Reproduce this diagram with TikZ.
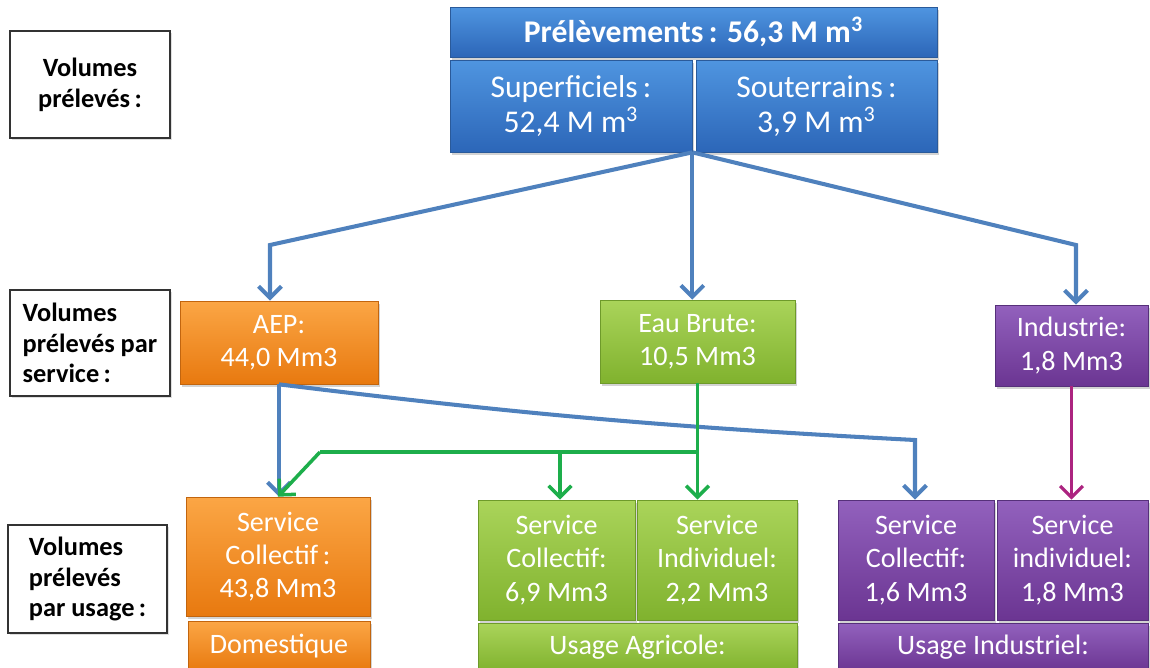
\documentclass[tikz,border=0pt]{standalone}
\usepackage{fontspec}
\setmainfont{Carlito}
\usetikzlibrary{arrows.meta,shadows}
\definecolor{bluetop}{HTML}{4F95E0}
\definecolor{bluebot}{HTML}{2C66B8}
\definecolor{blueedge}{HTML}{2A5A9A}
\definecolor{orangetop}{HTML}{FBA645}
\definecolor{orangebot}{HTML}{E8790F}
\definecolor{orangeedge}{HTML}{C2650E}
\definecolor{greentop}{HTML}{AAD45A}
\definecolor{greenbot}{HTML}{80B22E}
\definecolor{greenedge}{HTML}{6E9A2A}
\definecolor{purpletop}{HTML}{9261BD}
\definecolor{purplebot}{HTML}{6B3592}
\definecolor{purpleedge}{HTML}{56307A}
\definecolor{flowblue}{HTML}{4F81BD}
\definecolor{flowgreen}{HTML}{1DAE4B}
\definecolor{flowmagenta}{HTML}{AC2480}
\begin{document}
\begin{tikzpicture}[x=0.02cm, y=-0.02cm,
        >={Straight Barb[length=6.5pt,width=13pt]},
        every node/.append style={inner sep=0pt},
        bluearrow/.style={->,draw=flowblue,line width=2.3pt},
        greenarrow/.style={->,draw=flowgreen,line width=2pt},
        greenline/.style={draw=flowgreen,line width=2pt},
        magarrow/.style={->,draw=flowmagenta,line width=1.8pt}]
      \tikzstyle{fillbox} = [rectangle, text=white, align=center, line width=0.4pt,
        drop shadow={opacity=0.35,shadow xshift=1.2pt,shadow yshift=-1.5pt}]
      \tikzstyle{bluebox} = [fillbox, draw=blueedge, top color=bluetop, bottom color=bluebot,
        font=\fontsize{18}{20}\selectfont]
      \tikzstyle{orangebox} = [fillbox, draw=orangeedge, top color=orangetop, bottom color=orangebot,
        font=\fontsize{16}{19}\selectfont]
      \tikzstyle{greenbox} = [fillbox, draw=greenedge, top color=greentop, bottom color=greenbot,
        font=\fontsize{16}{19}\selectfont]
      \tikzstyle{purplebox} = [fillbox, draw=purpleedge, top color=purpletop, bottom color=purplebot,
        font=\fontsize{16}{19}\selectfont]
      \tikzstyle{legend} = [rectangle, draw=black!80, fill=white, line width=0.8pt,
        font=\bfseries\fontsize{15}{17.5}\selectfont,
        drop shadow={opacity=0.25,shadow xshift=1pt,shadow yshift=-1pt}]
      \useasboundingbox (0,0) rectangle (1150,667);
      \node (prel) [bluebox, minimum width=9.74cm, minimum height=1cm] at (693.5,32)
        {\bfseries Prélèvements\,: 56,3 M m\textsuperscript{3}};
      \node (sup) [bluebox, minimum width=4.84cm, minimum height=1.84cm] at (571,106)
        {Superficiels\,:\\52,4 M m\textsuperscript{3}};
      \node (sout) [bluebox, minimum width=4.82cm, minimum height=1.84cm] at (816.5,106)
        {Souterrains\,:\\3,9 M m\textsuperscript{3}};
      \node (lab1) [legend, align=center, minimum width=3.2cm, minimum height=2.14cm] at (90,84.5)
        {Volumes\\prélevés\,:};
      \node (lab2) [legend, align=left, minimum width=3.2cm, minimum height=2.12cm] at (90,343)
        {Volumes\\prélevés par\\service\,:};
      \node (lab3) [legend, align=left, minimum width=3.18cm, minimum height=2.16cm] at (87.5,579)
        {Volumes\\prélevés\\par usage\,:};
      \node (aep) [orangebox, minimum width=3.96cm, minimum height=1.66cm] at (279,342.5)
        {AEP:\\44,0 Mm3};
      \node (brute) [greenbox, minimum width=3.9cm, minimum height=1.66cm] at (697.5,341.5)
        {Eau Brute:\\10,5 Mm3};
      \node (indus) [purplebox, minimum width=3.06cm, minimum height=1.62cm] at (1071.5,345.5)
        {Industrie:\\1,8 Mm3};
      \node (scoll) [orangebox, minimum width=3.68cm, minimum height=2.38cm] at (278,556.5)
        {Service\\Collectif\,:\\43,8 Mm3};
      \node (dom) [orangebox, minimum width=3.64cm, minimum height=1cm] at (279,646)
        {Domestique};
      \node (agcoll) [greenbox, minimum width=3.14cm, minimum height=2.4cm] at (556.5,560)
        {Service\\Collectif:\\6,9 Mm3};
      \node (agind) [greenbox, minimum width=3.2cm, minimum height=2.4cm] at (717,560)
        {Service\\Individuel:\\2,2 Mm3};
      \node (agri) [greenbox, minimum width=6.38cm, minimum height=0.96cm] at (637.5,647)
        {Usage Agricole:};
      \node (incoll) [purplebox, minimum width=3.12cm, minimum height=2.4cm] at (916,560)
        {Service\\Collectif:\\1,6 Mm3};
      \node (inind) [purplebox, minimum width=3.02cm, minimum height=2.4cm] at (1072.5,560)
        {Service\\individuel:\\1,8 Mm3};
      \node (induse) [purplebox, minimum width=6.2cm, minimum height=0.96cm] at (993,647)
        {Usage Industriel:};
      \coordinate (split) at (sup.south east);
      \coordinate (aepin) at (270,245);
      \coordinate (indin) at (1076,245);
      \coordinate (bendin) at (915,440);
      \coordinate (gsplit) at (697.5,452);
      \coordinate (gleft) at (560,452);
      \coordinate (gknee) at (320,452);
      \draw[bluearrow] (split) -- (aepin) -- (aepin |- aep.north);
      \draw[bluearrow] (split) -- (split |- brute.north);
      \draw[bluearrow] (split) -- (indin) -- (indin |- indus.north);
      \draw[bluearrow] (aep.south) -- (aep.south |- scoll.north);
      \draw[bluearrow] (aep.south) to[bend right=2] (bendin) -- (bendin |- incoll.north);
      \draw[greenarrow] (brute.south) -- (brute.south |- agind.north);
      \draw[greenline] (gsplit) -- (gknee);
      \draw[greenarrow] (gleft) -- (gleft |- agcoll.north);
      \draw[greenarrow] (gknee) -- (scoll.north);
      \draw[magarrow] (indus.south) -- (indus.south |- inind.north);
    \end{tikzpicture}
\end{document}
